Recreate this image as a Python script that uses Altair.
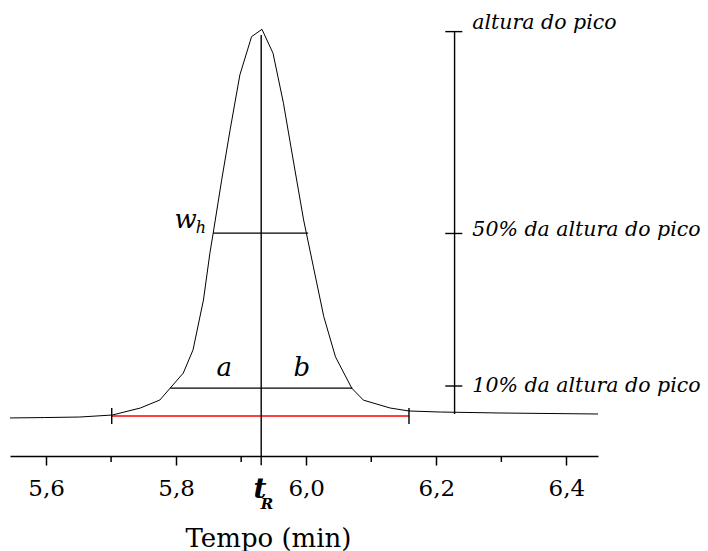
import altair as alt
import pandas as pd

# Chromatogram trace (time in min, signal in % of peak height)
time_min = [5.5446, 5.598, 5.652, 5.702, 5.745, 5.775, 5.791, 5.811, 5.826, 5.842,
            5.852, 5.857, 5.870, 5.883, 5.898, 5.916, 5.932, 5.949, 5.965, 5.980,
            5.996, 6.011, 6.027, 6.045, 6.070, 6.088, 6.129, 6.158, 6.206, 6.298, 6.4486]
signal_pct = [-0.5, -0.4, -0.26, 0.26, 2.07, 4.14, 7.24, 11.1, 17.1, 30.0,
              42.2, 47.3, 61.0, 74.0, 88.2, 98.1, 100.0, 93.8, 80.9, 66.2,
              50.7, 38.6, 25.7, 15.3, 7.2, 4.1, 2.07, 1.3, 1.03, 0.78, 0.52]

x_major_ticks = [5.6, 5.8, 6.0, 6.2, 6.4]
x_minor_ticks = [5.7, 5.9, 6.1, 6.3]
x_domain = [5.5446, 6.4486]
y_domain = [-10.34, 104.99]

# black guide segments: tR line, height bar, w_h, a-b width, height ticks, baseline end ticks
seg_x = [5.9308, 6.2281, 5.857, 5.791, 6.2138, 6.2138, 6.2138, 5.701, 6.158]
seg_x2 = [5.9308, 6.2281, 6.003, 6.071, 6.240, 6.240, 6.240, 5.701, 6.158]
seg_y = [98.5, 99.4, 47.3, 7.2, 99.4, 47.2, 7.76, 2.07, 2.07]
seg_y2 = [-12.7, 0.5, 47.3, 7.2, 99.4, 47.2, 7.76, -2.07, -2.07]

# red baseline
base_x = [5.701]
base_x2 = [6.158]
base_y = [0.0]

# right-hand labels
right_text = ["altura do pico", "50% da altura do pico", "10% da altura do pico"]
right_x = [6.2554, 6.2554, 6.2554]
right_y = [100.1, 46.5, 6.3]

# italic letters
letter_text = ["a", "b", "w"]
letter_x = [5.874, 5.9934, 5.8146]
letter_y = [10.3, 10.3, 48.6]
sub_text = ["h"]
sub_x = [5.838]
sub_y = [47.3]

# t_R label
tr_text = ["t"]
tr_x = [5.929]
tr_y = [-21.2]
trs_text = ["R"]
trs_x = [5.9395]
trs_y = [-24.0]

FONT = "DejaVu Serif"

xs = alt.Scale(domain=x_domain, nice=False, zero=False)
ys = alt.Scale(domain=y_domain, nice=False, zero=False)

curve_df = pd.DataFrame({"t": time_min, "s": signal_pct})
seg_df = pd.DataFrame({"x": seg_x, "x2": seg_x2, "y": seg_y, "y2": seg_y2})
base_df = pd.DataFrame({"x": base_x, "x2": base_x2, "y": base_y})
right_df = pd.DataFrame({"text": right_text, "x": right_x, "y": right_y})
letter_df = pd.DataFrame({"text": letter_text, "x": letter_x, "y": letter_y})
sub_df = pd.DataFrame({"text": sub_text, "x": sub_x, "y": sub_y})
tr_df = pd.DataFrame({"text": tr_text, "x": tr_x, "y": tr_y})
trs_df = pd.DataFrame({"text": trs_text, "x": trs_x, "y": trs_y})
minor_df = pd.DataFrame({"x": x_minor_ticks})

x_axis = alt.Axis(
    values=x_major_ticks,
    labelExpr="replace(format(datum.value, '.1f'), '.', ',')",
    tickSize=9, tickWidth=1.5, tickColor="black",
    domainColor="black", domainWidth=1.5,
    labelFont=FONT, labelFontSize=23, labelColor="black",
    labelBaseline="alphabetic", labelPadding=30, labelFlush=False,
    grid=False,
    title="Tempo (min)", titleFont=FONT, titleFontSize=26, titleFontWeight="normal",
    titleColor="black", titleX=258, titleY=90, titleBaseline="alphabetic", titleAlign="center",
)

curve = alt.Chart(curve_df).mark_line(color="black", strokeWidth=1).encode(
    x=alt.X("t:Q", scale=xs, axis=x_axis),
    y=alt.Y("s:Q", scale=ys, axis=None),
)

segs = alt.Chart(seg_df).mark_rule(color="black", strokeWidth=1.4).encode(
    x=alt.X("x:Q", scale=xs), x2="x2:Q",
    y=alt.Y("y:Q", scale=ys), y2="y2:Q",
)

base = alt.Chart(base_df).mark_rule(color="#ff0000", strokeWidth=1.6).encode(
    x=alt.X("x:Q", scale=xs), x2="x2:Q",
    y=alt.Y("y:Q", scale=ys),
)

minor = alt.Chart(minor_df).mark_rule(color="black", strokeWidth=1.5).encode(
    x=alt.X("x:Q", scale=xs),
    y=alt.value(446), y2=alt.value(452),
)

right_labels = alt.Chart(right_df).mark_text(
    font=FONT, fontSize=20.5, fontStyle="italic", align="left", baseline="alphabetic", color="black"
).encode(x=alt.X("x:Q", scale=xs), y=alt.Y("y:Q", scale=ys), text="text:N")

letters = alt.Chart(letter_df).mark_text(
    font=FONT, fontSize=26, fontStyle="italic", align="center", baseline="alphabetic", color="black"
).encode(x=alt.X("x:Q", scale=xs), y=alt.Y("y:Q", scale=ys), text="text:N")

subs = alt.Chart(sub_df).mark_text(
    font=FONT, fontSize=16, fontStyle="italic", align="center", baseline="alphabetic", color="black"
).encode(x=alt.X("x:Q", scale=xs), y=alt.Y("y:Q", scale=ys), text="text:N")

tr = alt.Chart(tr_df).mark_text(
    font=FONT, fontSize=28, fontStyle="italic", fontWeight="bold", align="center",
    baseline="alphabetic", color="black"
).encode(x=alt.X("x:Q", scale=xs), y=alt.Y("y:Q", scale=ys), text="text:N")

trs = alt.Chart(trs_df).mark_text(
    font=FONT, fontSize=15, fontStyle="italic", fontWeight="bold", align="center",
    baseline="alphabetic", color="black"
).encode(x=alt.X("x:Q", scale=xs), y=alt.Y("y:Q", scale=ys), text="text:N")

chart = alt.layer(curve, base, segs, minor, right_labels, letters, subs, tr, trs).properties(
    width=588, height=446,
    autosize=alt.AutoSizeParams(type="none"),
    padding={"left": 10, "top": 10, "right": 110, "bottom": 95},
    background="white",
).configure_view(stroke=None)

chart.save("out.html", embed_options={"renderer": "svg", "actions": False})
